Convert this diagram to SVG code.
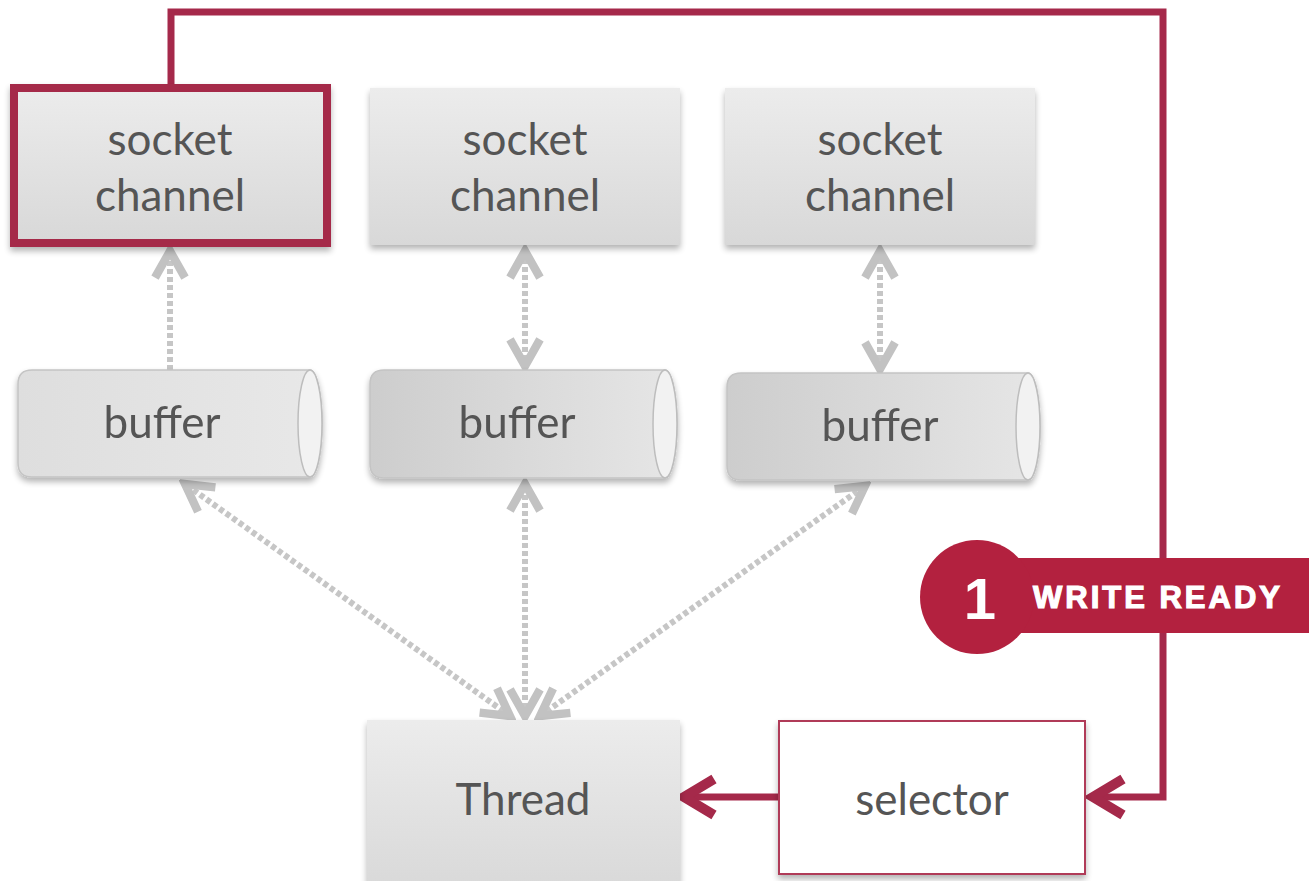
<svg xmlns="http://www.w3.org/2000/svg" width="1309" height="881" viewBox="0 0 1309 881">
<style>
.lbl{font-family:Lato,"Open Sans","Liberation Sans",sans-serif;font-size:44px;fill:#555;text-anchor:middle}
.dash{stroke:#c6c6c6;stroke-width:6;stroke-dasharray:5 3;fill:none}
.red{stroke:#a5294a;stroke-width:7;fill:none}
.bufend{fill:#f2f2f2;stroke:#bdbdbd;stroke-width:1.5}
</style>
<defs>
<linearGradient id="gBox" x1="0" y1="0" x2="0" y2="1">
<stop offset="0" stop-color="#ececec"/><stop offset="1" stop-color="#d8d8d8"/>
</linearGradient>
<linearGradient id="gBuf1" x1="0" y1="0" x2="1" y2="0">
<stop offset="0" stop-color="#dedede"/><stop offset="1" stop-color="#e8e8e8"/>
</linearGradient>
<linearGradient id="gBuf2" x1="0" y1="0" x2="1" y2="0">
<stop offset="0" stop-color="#cdcdcd"/><stop offset="1" stop-color="#e6e6e6"/>
</linearGradient>
<filter id="sh" x="-10%" y="-10%" width="120%" height="130%">
<feGaussianBlur in="SourceAlpha" stdDeviation="3"/>
<feOffset dy="4" result="b"/>
<feComponentTransfer><feFuncA type="linear" slope="0.3"/></feComponentTransfer>
<feMerge><feMergeNode/><feMergeNode in="SourceGraphic"/></feMerge>
</filter>
<marker id="ga" viewBox="0 0 24 24" refX="20" refY="12" markerWidth="40" markerHeight="40" markerUnits="userSpaceOnUse" orient="auto-start-reverse">
<path d="M4,3 L20,12 L4,21" fill="none" stroke="#c2c2c2" stroke-width="5" stroke-linejoin="miter"/>
</marker>
<marker id="ra" viewBox="0 0 24 24" refX="20" refY="12" markerWidth="48" markerHeight="48" markerUnits="userSpaceOnUse" orient="auto">
<path d="M5,3 L20,12 L5,21" fill="none" stroke="#a5294a" stroke-width="5"/>
</marker>
</defs>
<rect width="1309" height="881" fill="#fff"/>

<g id="connectors">
<path class="dash" d="M170,370 V251" marker-end="url(#ga)"/>
<path class="dash" d="M525,251 V366" marker-start="url(#ga)" marker-end="url(#ga)"/>
<path class="dash" d="M880,251 V369" marker-start="url(#ga)" marker-end="url(#ga)"/>
<path class="dash" d="M510,716 L185,484" marker-start="url(#ga)" marker-end="url(#ga)"/>
<path class="dash" d="M525,716 V484" marker-start="url(#ga)" marker-end="url(#ga)"/>
<path class="dash" d="M540,716 L865,486" marker-start="url(#ga)" marker-end="url(#ga)"/>
<path class="red" d="M171,88 V12 H1163 V797 H1093" marker-end="url(#ra)"/>
<path class="red" d="M778,797 H684" marker-end="url(#ra)"/>
</g>

<g id="socket1">
<rect x="14" y="88" width="313" height="155" fill="url(#gBox)" stroke="#a5294a" stroke-width="8" filter="url(#sh)"/>
<text class="lbl" x="170" y="155">socket</text>
<text class="lbl" x="170" y="211">channel</text>
</g>
<g id="socket2">
<rect x="370" y="88" width="310" height="157" fill="url(#gBox)" filter="url(#sh)"/>
<text class="lbl" x="525" y="155">socket</text>
<text class="lbl" x="525" y="211">channel</text>
</g>
<g id="socket3">
<rect x="725" y="88" width="310" height="157" fill="url(#gBox)" filter="url(#sh)"/>
<text class="lbl" x="880" y="155">socket</text>
<text class="lbl" x="880" y="211">channel</text>
</g>

<g id="buffer1" filter="url(#sh)">
<path d="M32,370 H310 A12,53.5 0 0 1 310,477 H32 Q18,477 18,463 V384 Q18,370 32,370 Z" fill="url(#gBuf1)" stroke="#c4c4c4" stroke-width="1.5"/>
<ellipse class="bufend" cx="310" cy="423.5" rx="12" ry="53.5"/>
<text class="lbl" x="162" y="438">buffer</text>
</g>
<g id="buffer2" filter="url(#sh)">
<path d="M384,370 H665 A12,54 0 0 1 665,478 H384 Q370,478 370,464 V384 Q370,370 384,370 Z" fill="url(#gBuf2)" stroke="#c4c4c4" stroke-width="1.5"/>
<ellipse class="bufend" cx="665" cy="424" rx="12" ry="54"/>
<text class="lbl" x="517" y="438">buffer</text>
</g>
<g id="buffer3" filter="url(#sh)">
<path d="M741,373 H1028 A12,53.5 0 0 1 1028,480 H741 Q727,480 727,466 V387 Q727,373 741,373 Z" fill="url(#gBuf2)" stroke="#c4c4c4" stroke-width="1.5"/>
<ellipse class="bufend" cx="1028" cy="426.5" rx="12" ry="53.5"/>
<text class="lbl" x="880" y="441">buffer</text>
</g>

<g id="thread">
<rect x="367" y="720" width="313" height="175" fill="url(#gBox)" filter="url(#sh)"/>
<text class="lbl" x="523" y="815">Thread</text>
</g>
<g id="selector">
<rect x="779" y="721" width="306" height="153" fill="#fff" stroke="#b03a58" stroke-width="2" filter="url(#sh)"/>
<text class="lbl" x="932" y="815">selector</text>
</g>

<g id="badge">
<rect x="975" y="558" width="334" height="75" fill="#b3213f"/>
<circle cx="977" cy="597" r="57" fill="#b3213f"/>
<text x="980" y="619" font-family="'Liberation Sans',Arial,sans-serif" font-size="58" font-weight="bold" fill="#fff" text-anchor="middle">1</text>
<text x="1033" y="608" font-family="'Liberation Sans',Arial,sans-serif" font-size="31" font-weight="bold" letter-spacing="3" fill="#fff" stroke="#fff" stroke-width="1.2">WRITE READY</text>
</g>
</svg>
